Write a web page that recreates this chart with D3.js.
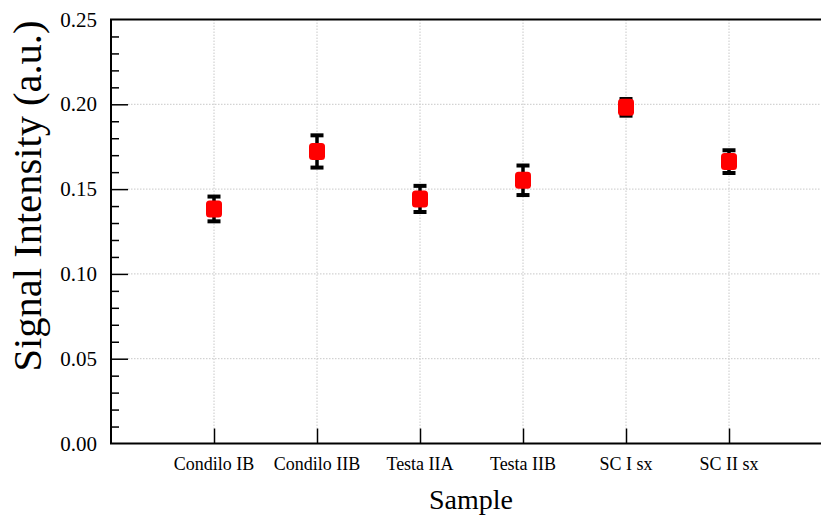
<!DOCTYPE html>
<html>
<head>
<meta charset="utf-8">
<script src="https://cdn.jsdelivr.net/npm/d3@7"></script>
<style>
  body { margin: 0; background: #fff; }
  svg { display: block; }
  text { font-family: "Liberation Serif", "Times New Roman", serif; fill: #000; }
</style>
</head>
<body>
<div id="chart"></div>
<script>
// data
var samples = ["Condilo IB", "Condilo IIB", "Testa IIA", "Testa IIB", "SC I sx", "SC II sx"];
var intensity = [0.1383, 0.1722, 0.1442, 0.1552, 0.1982, 0.1662];
var errors = [0.0076, 0.0098, 0.0080, 0.0090, 0.0052, 0.0070];
var yTicks = [0.00, 0.05, 0.10, 0.15, 0.20, 0.25];

var svgWidth = 821;
var svgHeight = 515;
var plotLeft = 111, plotTop = 19.5, plotBottom = 443.5;
var serif = "Liberation Serif";

var svg = d3.select("#chart")
  .append("svg")
  .attr("width", svgWidth)
  .attr("height", svgHeight);

// x is a numeric position 1..6, axis runs off the right edge
var x = d3.scaleLinear().domain([0, 7]).range([plotLeft, plotLeft + 7 * 103]);
var y = d3.scaleLinear().domain([0, 0.25]).range([plotBottom, plotTop]);

// grid lines (dotted)
var grid = svg.append("g");
grid.selectAll(".hgrid")
  .data(yTicks.filter(d => d > 0 && d < 0.25))
  .enter()
  .append("line")
  .attr("x1", plotLeft + 17)
  .attr("x2", svgWidth)
  .attr("y1", d => y(d))
  .attr("y2", d => y(d))
  .attr("stroke", "#c8c8c8")
  .attr("stroke-width", 1)
  .attr("stroke-dasharray", "1.5,1.5");

grid.selectAll(".vgrid")
  .data(samples)
  .enter()
  .append("line")
  .attr("x1", (d, i) => x(i + 1))
  .attr("x2", (d, i) => x(i + 1))
  .attr("y1", plotTop)
  .attr("y2", plotBottom - 15)
  .attr("stroke", "#c8c8c8")
  .attr("stroke-width", 1)
  .attr("stroke-dasharray", "1.5,1.5");

// left axis, ticks pointing inward
var minorTicks = d3.range(0, 0.2501, 0.01).filter(v => Math.abs(v * 20 - Math.round(v * 20)) > 1e-6);

var yAxis = svg.append("g").attr("transform", `translate(${plotLeft},0)`);
yAxis.call(d3.axisRight(y).tickValues(minorTicks).tickSize(8).tickFormat(""));
yAxis.call(g => g.select(".domain").remove());
var yMajor = svg.append("g").attr("transform", `translate(${plotLeft},0)`);
yMajor.call(d3.axisRight(y).tickValues(yTicks.slice(1, 5)).tickSize(17).tickFormat(""));
yMajor.call(g => g.select(".domain").remove());

// bottom axis
var xAxis = svg.append("g").attr("transform", `translate(0,${plotBottom})`);
xAxis.call(d3.axisTop(x).tickValues([1, 2, 3, 4, 5, 6]).tickSize(15).tickFormat(""));
xAxis.call(g => g.select(".domain").remove());

svg.selectAll(".tick line").attr("stroke", "#000").attr("stroke-width", 1.5);

svg.selectAll(".ylab")
  .data(yTicks)
  .enter()
  .append("text")
  .attr("x", 97)
  .attr("y", d => y(d) + 7)
  .attr("text-anchor", "end")
  .attr("font-family", serif)
  .attr("font-size", 21)
  .text(d => d3.format(".2f")(d));

svg.selectAll(".xlab")
  .data(samples)
  .enter()
  .append("text")
  .attr("x", (d, i) => x(i + 1))
  .attr("y", 470)
  .attr("text-anchor", "middle")
  .attr("font-family", serif)
  .attr("font-size", 18)
  .text(d => d);

// frame lines: left, top, bottom
svg.append("path")
  .attr("d", `M${svgWidth},${plotTop}H${plotLeft}V${plotBottom}H${svgWidth}`)
  .attr("fill", "none")
  .attr("stroke", "#000")
  .attr("stroke-width", 2);

// axis titles
svg.append("text")
  .attr("x", 471)
  .attr("y", 509)
  .attr("text-anchor", "middle")
  .attr("font-family", serif)
  .attr("font-size", 28)
  .text("Sample");

svg.append("text")
  .attr("transform", "translate(41,196) rotate(-90)")
  .attr("text-anchor", "middle")
  .attr("font-family", serif)
  .attr("font-size", 40.5)
  .text("Signal Intensity (a.u.)");

// error bars
var points = samples.map((s, i) => ({ name: s, pos: i + 1, v: intensity[i], e: errors[i] }));

var bars = svg.append("g");
bars.selectAll(".err")
  .data(points)
  .enter()
  .append("line")
  .attr("x1", d => x(d.pos))
  .attr("x2", d => x(d.pos))
  .attr("y1", d => y(d.v + d.e))
  .attr("y2", d => y(d.v - d.e))
  .attr("stroke", "#000")
  .attr("stroke-width", 3.5);

bars.selectAll(".capTop")
  .data(points)
  .enter()
  .append("rect")
  .attr("x", d => x(d.pos) - 6.5)
  .attr("y", d => y(d.v + d.e) - 1.5)
  .attr("width", 13)
  .attr("height", 4)
  .attr("fill", "#000");

bars.selectAll(".capBottom")
  .data(points)
  .enter()
  .append("rect")
  .attr("x", d => x(d.pos) - 6.5)
  .attr("y", d => y(d.v - d.e) - 2.5)
  .attr("width", 13)
  .attr("height", 4)
  .attr("fill", "#000");

// markers
svg.append("g").selectAll(".mark")
  .data(points)
  .enter()
  .append("rect")
  .attr("x", d => x(d.pos) - 8)
  .attr("y", d => y(d.v) - 8.5)
  .attr("width", 16)
  .attr("height", 17)
  .attr("rx", 3.5)
  .attr("fill", "#ff0000");
</script>
</body>
</html>
